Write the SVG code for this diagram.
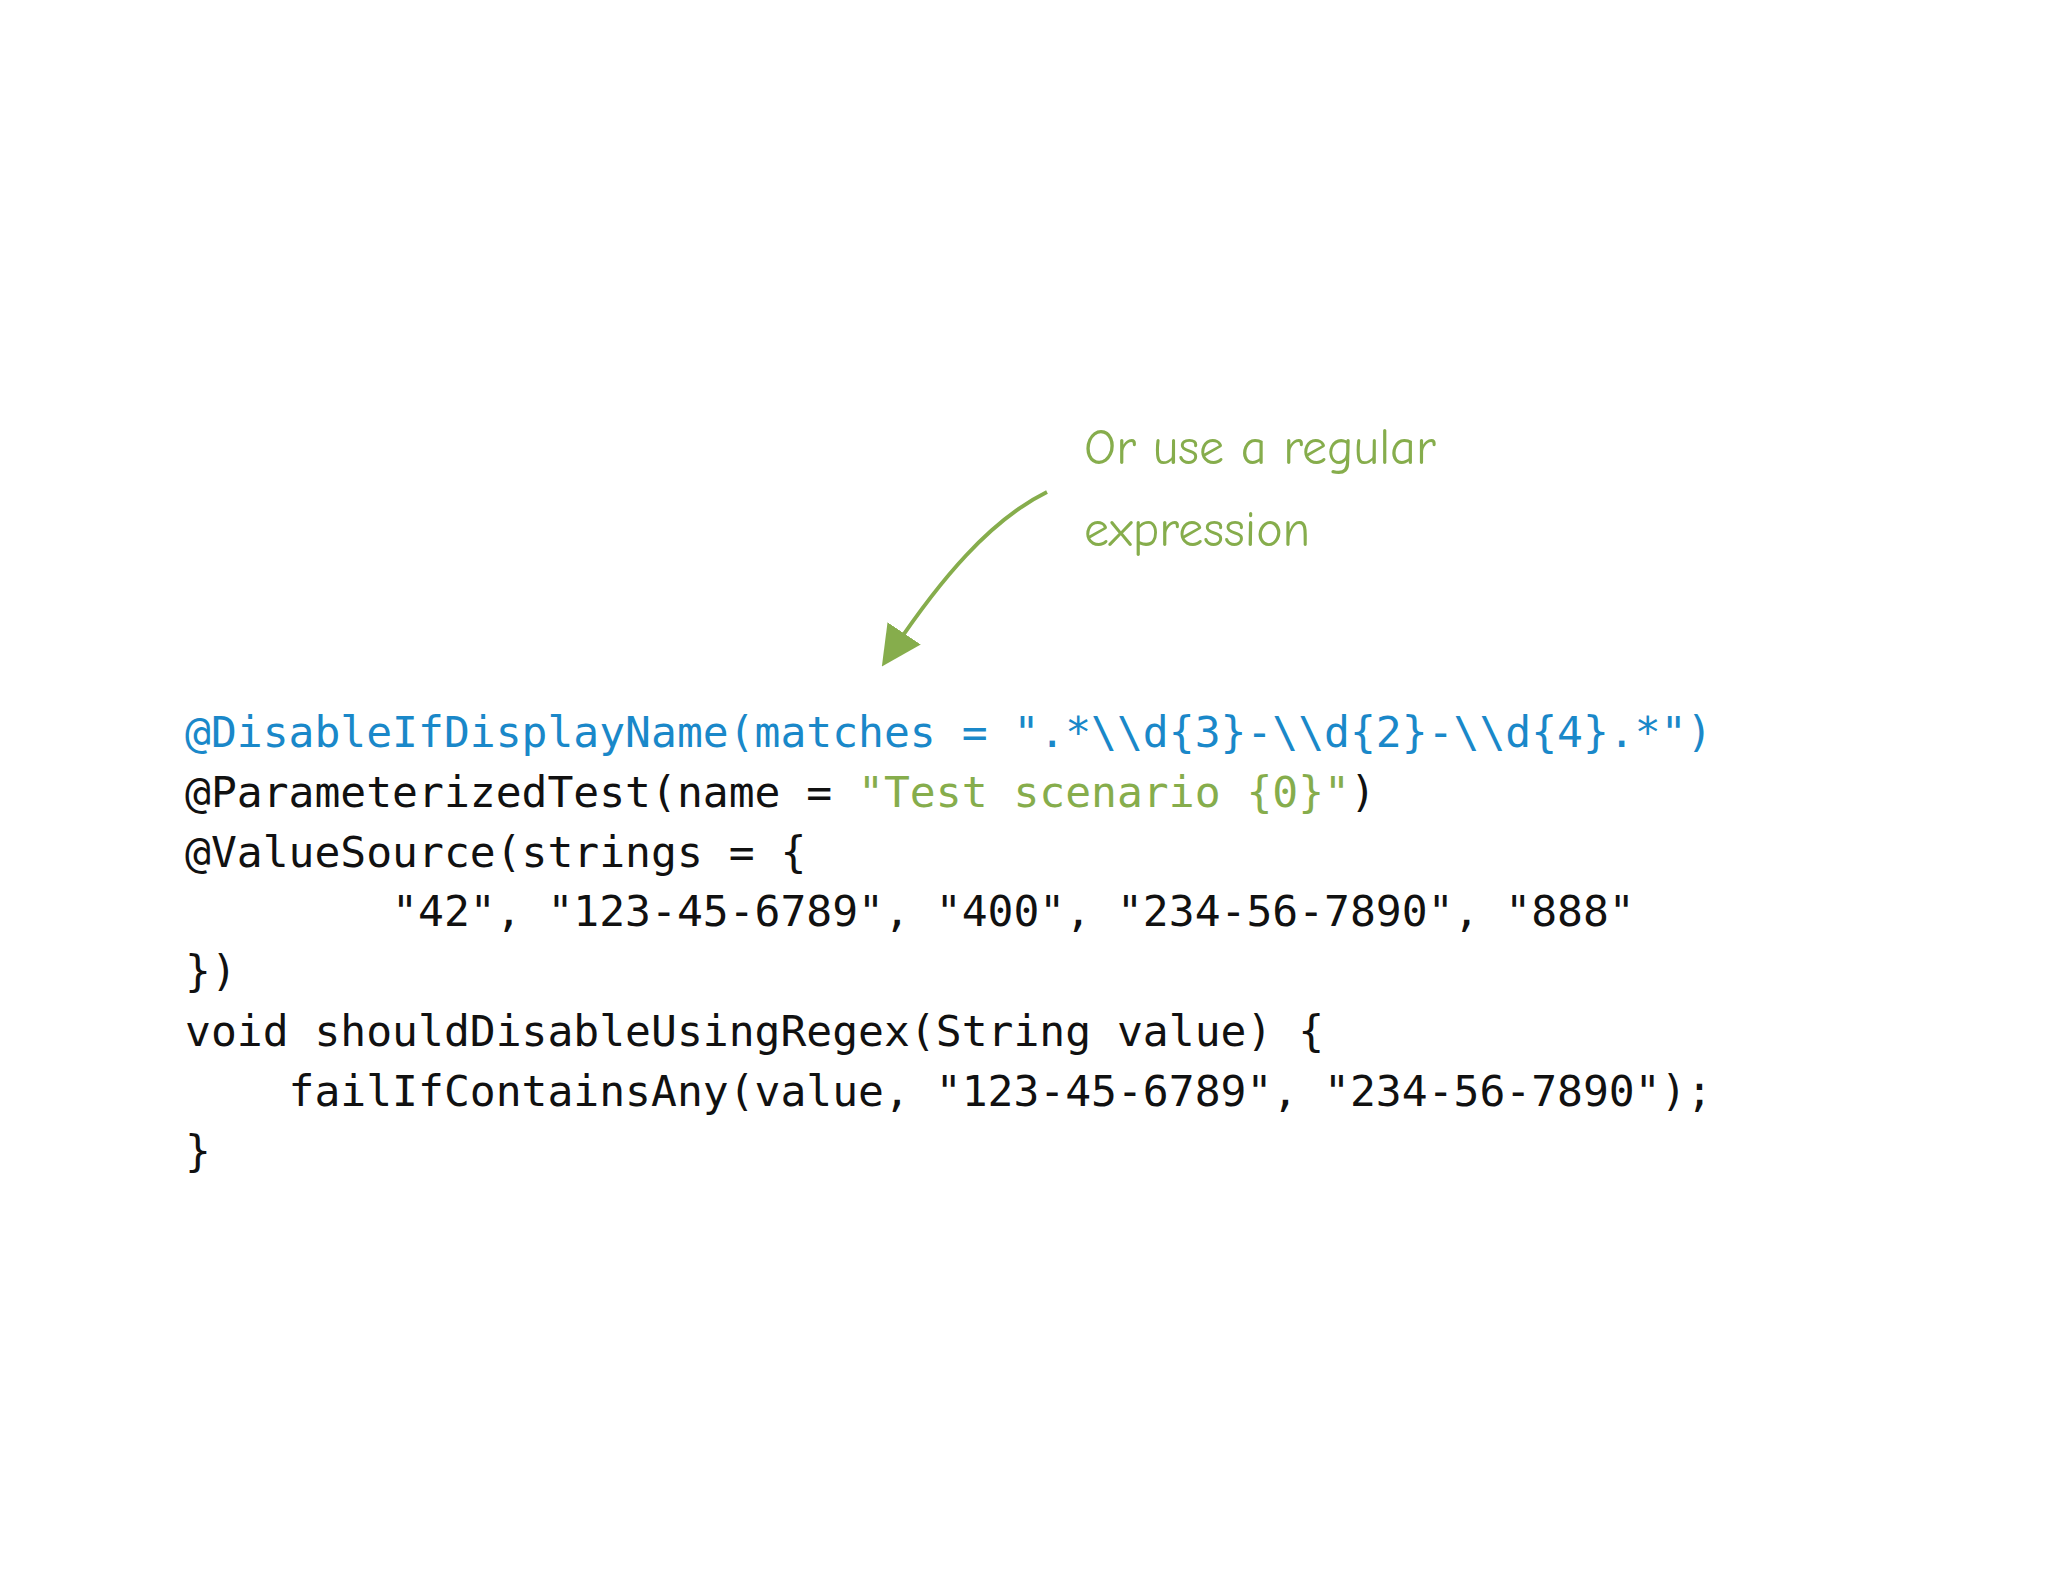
<svg xmlns="http://www.w3.org/2000/svg" width="2048" height="1582" viewBox="0 0 2048 1582">
<style>
.c{font-family:"DejaVu Sans Mono","Liberation Mono",monospace;font-size:43px;fill:#111}
.b{fill:#1a88c9}.g{fill:#86ad4c}
.h{font-family:"Comic Neue","DejaVu Sans",sans-serif;font-size:50px;fill:#86ad4c}
</style>
<defs><marker id="ah" markerWidth="10" markerHeight="10" refX="5" refY="5" orient="auto" markerUnits="strokeWidth"><path d="M0,0 L10,5 L0,10 z" fill="#86ad4c"/></marker></defs>
<rect width="2048" height="1582" fill="#fff"/>
<g id="annotation">
<text class="h" x="1084" y="464">Or use a regular</text>
<text class="h" x="1084" y="546">expression</text>
</g>
<g id="connectors">
<path d="M1047,492 C990,520 940,580 893,650" fill="none" stroke="#86ad4c" stroke-width="4" marker-end="url(#ah)"/>
</g>
<g id="code">
<text class="c b" x="185" y="747" xml:space="preserve">@DisableIfDisplayName(matches = ".*\\d{3}-\\d{2}-\\d{4}.*")</text>
<text class="c" x="185" y="807" xml:space="preserve">@ParameterizedTest(name = <tspan class="g">"Test scenario {0}"</tspan>)</text>
<text class="c" x="185" y="867" xml:space="preserve">@ValueSource(strings = {</text>
<text class="c" x="185" y="926" xml:space="preserve">        "42", "123-45-6789", "400", "234-56-7890", "888"</text>
<text class="c" x="185" y="986" xml:space="preserve">})</text>
<text class="c" x="185" y="1046" xml:space="preserve">void shouldDisableUsingRegex(String value) {</text>
<text class="c" x="185" y="1106" xml:space="preserve">    failIfContainsAny(value, "123-45-6789", "234-56-7890");</text>
<text class="c" x="185" y="1166" xml:space="preserve">}</text>
</g>
</svg>
